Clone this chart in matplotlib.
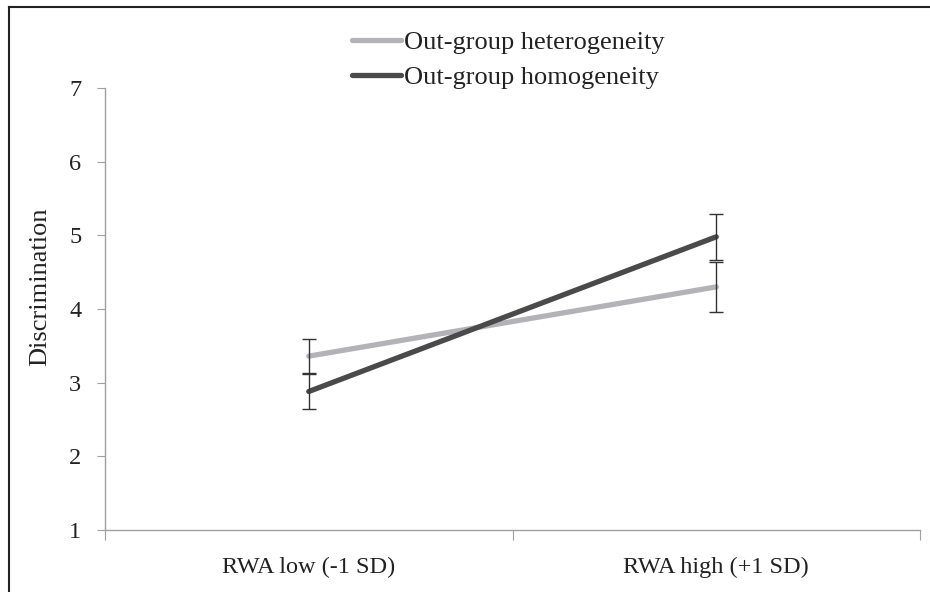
import matplotlib
matplotlib.use("Agg")
import matplotlib.pyplot as plt
from matplotlib.lines import Line2D

plt.rcParams['font.family'] = ['Liberation Serif', 'DejaVu Serif']

categories = ["RWA low (-1 SD)", "RWA high (+1 SD)"]
series_names = ["Out-group heterogeneity", "Out-group homogeneity"]
hetero = [3.36, 4.30]
hetero_err = [0.23, 0.34]
homo = [2.88, 4.98]
homo_err = [0.24, 0.31]
yticks = [1, 2, 3, 4, 5, 6, 7]

fig = plt.figure(figsize=(9.3, 5.92), dpi=100)
ax = fig.add_axes([105/930, 1-530/592, 815/930, 442/592])

x = list(range(len(categories)))
c_het = '#b3b3b7'
c_hom = '#4a4a4a'
l1, = ax.plot(x, hetero, color=c_het, lw=3.8, solid_capstyle='round', zorder=3)
l2, = ax.plot(x, homo, color=c_hom, lw=3.8, solid_capstyle='round', zorder=3)
ax.errorbar(x, hetero, yerr=hetero_err, fmt='none', ecolor='#333333', elinewidth=1.0,
            capsize=5, capthick=1.0, zorder=4)
ax.errorbar(x, homo, yerr=homo_err, fmt='none', ecolor='#333333', elinewidth=1.0,
            capsize=5, capthick=1.0, zorder=4)

ax.set_xlim(-0.5, 1.5)
ax.set_ylim(1, 7)
ax.set_yticks(yticks)
ax.set_xticks([-0.5, 0.5, 1.5])
ax.set_xticklabels([])
ax.set_xticks(x, minor=True)
ax.set_xticklabels(categories, minor=True)
ax.tick_params(axis='x', which='minor', length=0, pad=19, labelsize=17.5, colors='#222222')
ax.tick_params(axis='x', which='major', length=7, color='#a0a0a0', direction='out')
ax.tick_params(axis='y', length=6, color='#a0a0a0', pad=11, labelsize=17.5, labelcolor='#222222')

for s in ['top', 'right']:
    ax.spines[s].set_visible(False)
for s in ['left', 'bottom']:
    ax.spines[s].set_color('#a0a0a0')
    ax.spines[s].set_linewidth(1.0)

ax.set_ylabel("Discrimination", fontsize=19, color='#222222')
ax.yaxis.set_label_coords(-54/815, 0.55)

leg = fig.legend([l1, l2], series_names, loc='center left',
                 bbox_to_anchor=(352/930, 1-60/592), frameon=False,
                 fontsize=19, handlelength=1.85, handletextpad=0.12,
                 labelspacing=0.45, borderaxespad=0, borderpad=0)
for t in leg.get_texts():
    t.set_color('#222222')

fig.add_artist(Line2D([9/930, 9/930], [0, 1-7/592], color='#222222', lw=1.5, transform=fig.transFigure))
fig.add_artist(Line2D([9/930, 1], [1-7/592, 1-7/592], color='#222222', lw=1.5, transform=fig.transFigure))

fig.savefig("out.png", dpi=100)
